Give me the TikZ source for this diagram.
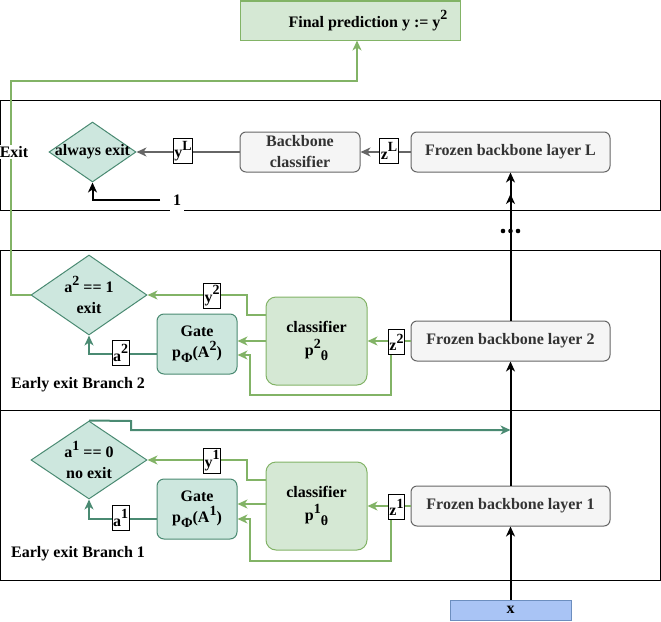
\documentclass[tikz,border=0pt]{standalone}
\usepackage{fontspec}
\setmainfont{Liberation Serif}
\usetikzlibrary{arrows.meta,shapes.geometric,calc}
\definecolor{gfill}{HTML}{D5E8D4}
\definecolor{gline}{HTML}{82B366}
\definecolor{tfill}{HTML}{CDE7DE}
\definecolor{tline}{HTML}{4A8A72}
\definecolor{bfill}{HTML}{F5F5F5}
\definecolor{bline}{HTML}{666666}
\definecolor{btext}{HTML}{333333}
\definecolor{xfill}{HTML}{A9C4F5}
\definecolor{xline}{HTML}{6C8EBF}
\newcommand{\mysup}[1]{\raisebox{0.45em}{\fontsize{14}{14}\selectfont #1}}
\newcommand{\mysub}[1]{\raisebox{-0.3em}{\fontsize{14}{14}\selectfont #1}}
\begin{document}
\begin{tikzpicture}[x=1pt,y=-1pt,
  font=\bfseries\fontsize{16}{21}\selectfont,
  tip/.style={-{Stealth[length=10pt,width=9pt,inset=3pt]}},
  panel/.style={draw=black,line width=1pt},
  gbox/.style={draw=gline,fill=gfill,line width=1pt,inner sep=0pt,align=center},
  clsbox/.style={draw=gline,fill=gfill,line width=1pt,rounded corners=10pt,inner sep=0pt,align=center,minimum width=101,minimum height=88},
  gatebox/.style={draw=tline,fill=tfill,line width=1pt,rounded corners=7pt,inner sep=0pt,align=center,minimum width=80,minimum height=60},
  frozen/.style={draw=bline,fill=bfill,text=btext,line width=1pt,rounded corners=6pt,inner sep=0pt,align=center,minimum width=199,minimum height=40},
  dia/.style={diamond,draw=tline,fill=tfill,line width=1pt,inner sep=0pt},
  lbl/.style={draw=black,fill=white,line width=1pt,inner sep=1pt,minimum height=25},
  glink/.style={draw=gline,line width=2pt,tip},
  tlink/.style={draw=tline,line width=2pt,tip},
  graylink/.style={draw=bline,line width=2pt,tip},
  blink/.style={draw=black,line width=2pt,tip},
]
\useasboundingbox (0,0) rectangle (661,621);
% panels
\draw[panel] (0.5,100.5) rectangle (660,210);
\draw[panel] (0.5,250.5) rectangle (660,410);
\draw[panel] (0.5,410) rectangle (660,580);

% top
\node[gbox,minimum width=220,minimum height=39,label={[xshift=18pt]center:Final prediction y := y\mysup{2}}] (final) at (350,20.5) {};

% layer L panel
\node[frozen] (fL) at (510.5,152) {Frozen backbone layer L};
\node[frozen,minimum width=120] (bbc) at (300,152) {Backbone\\classifier};
\node[dia,minimum width=87,minimum height=60,label={[align=center]center:always exit}] (dL) at (92.5,152) {};

% branch 2
\node[frozen] (f2) at (510.5,341) {Frozen backbone layer 2};
\node[clsbox] (c2) at (316.5,341) {classifier\\[2pt]p\mysup{2}\mysub{θ}};
\node[gatebox] (g2) at (197,344) {Gate\\p\mysub{Φ}(A\mysup{2})};
\node[dia,minimum width=116,minimum height=80,label={[align=center]center:a\mysup{2} == 1\\exit}] (d2) at (89,295) {};
\node[anchor=west,inner sep=0pt] (eb2) at (11,385) {Early exit Branch 2};

% branch 1
\node[frozen] (f1) at (510.5,506) {Frozen backbone layer 1};
\node[clsbox] (c1) at (316.5,506) {classifier\\[2pt]p\mysup{1}\mysub{θ}};
\node[gatebox] (g1) at (197,509) {Gate\\p\mysub{Φ}(A\mysup{1})};
\node[dia,minimum width=116,minimum height=78,label={[align=center]center:a\mysup{1} == 0\\no exit}] (d1) at (89,460) {};
\node[anchor=west,inner sep=0pt] (eb1) at (11,554) {Early exit Branch 1};

% input
\node[draw=xline,fill=xfill,line width=1pt,minimum width=121,minimum height=20,inner sep=0pt] (xin) at (510.5,610) {x};

% backbone arrows
\draw[blink] (xin.north) -- (f1.south);
\draw[blink] (f1.north) -- (f2.south);
\draw[blink] (f2.north) -- (fL.south);
\coordinate (midtip) at (510.5,194);
\draw[blink] (f2.north) -- (midtip);
\fill (503,231) circle (2.3pt) (510.5,231) circle (2.3pt) (518,231) circle (2.3pt);

% layer L edges
\draw[graylink] (fL.west) -- (bbc.east);
\draw[graylink] (bbc.west) -- (dL.east);
\coordinate (one) at (160,200);
\draw[blink] (one) -| (dL.south);

% exit path
\coordinate (exA) at (11,81);
\coordinate (exB) at (357,81);
\draw[glink] (d2.west) -| (exA) -- (exB) -- (final.south -| exB);

% branch 2 edges
\draw[glink] (f2.west) -- (c2.east);
\draw[glink] ([yshift=26pt]c2.west) -- ++(-19,0) |- (d2.east);
\draw[glink] (c2.west) -- (c2.west -| g2.east);
\coordinate (j2) at (391,341);
\draw[glink] (j2) -- (391,395) -- (250,395) -- (250,355) -- ([yshift=-11pt]g2.east);
\draw[tlink] ([yshift=-10pt]g2.west) -| (d2.south);

% branch 1 edges
\draw[glink] (f1.west) -- (c1.east);
\draw[glink] ([yshift=26pt]c1.west) -- ++(-19,0) |- (d1.east);
\draw[glink] ([yshift=2pt]c1.west) -- ([yshift=2pt]c1.west -| g1.east);
\coordinate (j1) at (391,507);
\draw[glink] (j1) -- (391,561) -- (250,561) -- (250,519) -- ([yshift=-10pt]g1.east);
\draw[tlink] ([yshift=-10pt]g1.west) -| (d1.south);
\coordinate (m1) at (510.5,430);
\draw[tlink] (d1.north) -- (131,421) -- (131,430) -- (m1);

% labels
\node[lbl] (lyL) at (183,151) {y\mysup{L}};
\node[lbl] (lzL) at (389,151) {z\mysup{L}};
\node[fill=white,inner sep=3pt,minimum height=22] (lone) at (177,200) {1};
\node[fill=white,inner sep=1pt] (lexit) at (14,152) {Exit};
\node[lbl] (ly2) at (212,295.5) {y\mysup{2}};
\node[lbl] (lz2) at (396.5,342) {z\mysup{2}};
\node[lbl] (la2) at (120.5,353) {a\mysup{2}};
\node[lbl] (ly1) at (212,460.5) {y\mysup{1}};
\node[lbl] (lz1) at (396.5,507) {z\mysup{1}};
\node[lbl] (la1) at (120.5,518) {a\mysup{1}};
\end{tikzpicture}
\end{document}
